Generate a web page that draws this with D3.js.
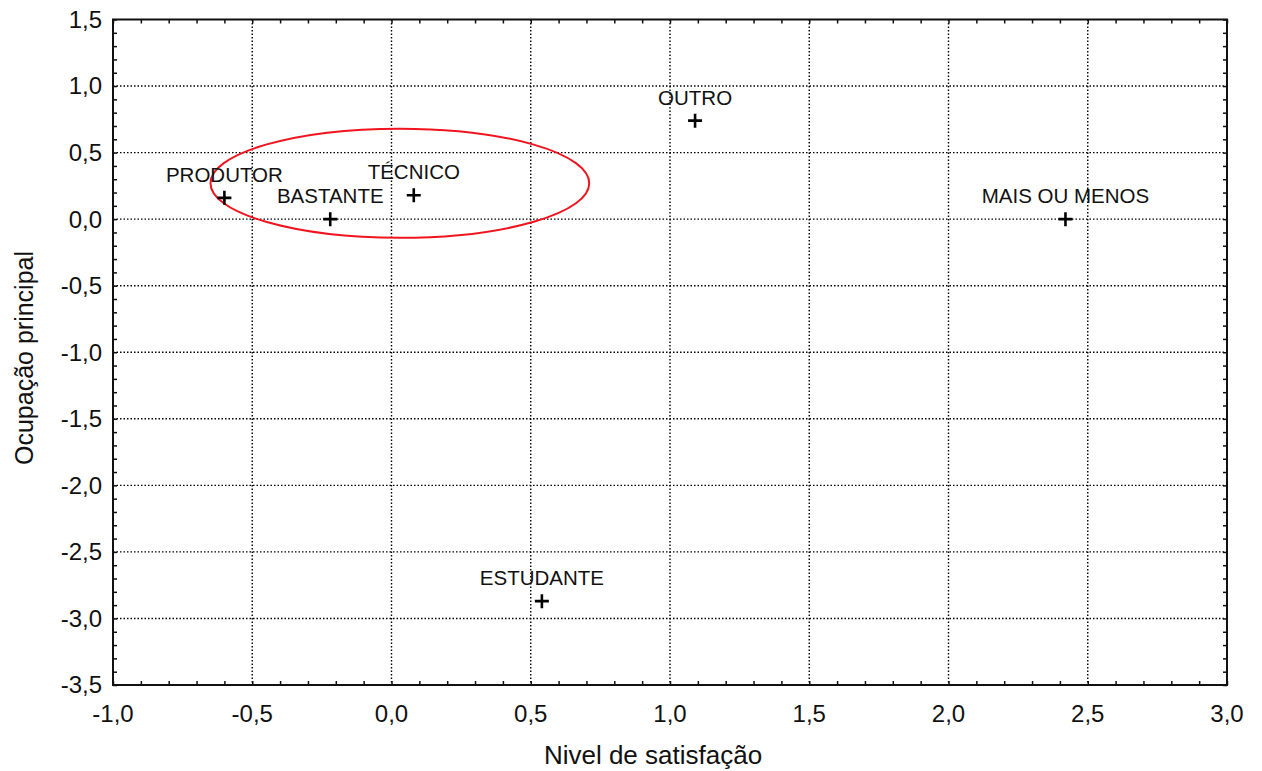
<!DOCTYPE html>
<html>
<head>
<meta charset="utf-8">
<script src="https://cdn.jsdelivr.net/npm/d3@7"></script>
<style>
  body { margin: 0; background: #fff; }
  svg { font-family: "Liberation Sans", Arial, sans-serif; }
</style>
</head>
<body>
<svg width="1262" height="771"></svg>
<script>
// Categorias e coordenadas
const categorias = ["PRODUTOR", "BASTANTE", "TÉCNICO", "OUTRO", "MAIS OU MENOS", "ESTUDANTE"];
const dimensao1 = [-0.60, -0.22, 0.08, 1.09, 2.42, 0.54];
const dimensao2 = [0.16, 0.00, 0.18, 0.74, 0.00, -2.87];

// Graduações
const xTicks = [-1.0, -0.5, 0.0, 0.5, 1.0, 1.5, 2.0, 2.5, 3.0];
const yTicks = [1.5, 1.0, 0.5, 0.0, -0.5, -1.0, -1.5, -2.0, -2.5, -3.0, -3.5];

// Elipse de destaque (centro x, centro y, raio x, raio y)
const elipse = [0.03, 0.27, 0.68, 0.41];

const pontos = categorias.map((c, i) => ({ nome: c, x: dimensao1[i], y: dimensao2[i] }));

const margem = { left: 113, right: 1227, top: 19.5, bottom: 685 };
const fmt = d => d.toFixed(1).replace(".", ",");

const svg = d3.select("svg");

const xScale = d3.scaleLinear().domain([-1, 3]).range([margem.left, margem.right]);
const yScale = d3.scaleLinear().domain([-3.5, 1.5]).range([margem.bottom, margem.top]);

// Grade pontilhada
svg.append("g")
    .selectAll("line")
    .data(xTicks.slice(1, -1))
    .join("line")
    .attr("x1", d => xScale(d)).attr("x2", d => xScale(d))
    .attr("y1", margem.top).attr("y2", margem.bottom)
    .attr("stroke", "#000").attr("stroke-width", 1.4)
    .attr("stroke-dasharray", "1.5,2");

svg.append("g")
    .selectAll("line")
    .data(yTicks.slice(1, -1))
    .join("line")
    .attr("y1", d => yScale(d)).attr("y2", d => yScale(d))
    .attr("x1", margem.left).attr("x2", margem.right)
    .attr("stroke", "#000").attr("stroke-width", 1.4)
    .attr("stroke-dasharray", "1.5,2");

// Eixos com graduações menores para dentro
const xMinor = d3.range(-10, 31).map(d => d / 10);
const yMinor = d3.range(-35, 16).map(d => d / 10);

svg.append("g")
    .attr("transform", `translate(0,${margem.bottom})`)
    .call(d3.axisTop(xScale).tickValues(xMinor).tickSize(4).tickFormat(""))
    .call(g => g.select(".domain").remove());
svg.append("g")
    .attr("transform", `translate(0,${margem.top})`)
    .call(d3.axisBottom(xScale).tickValues(xMinor).tickSize(4).tickFormat(""))
    .call(g => g.select(".domain").remove());
svg.append("g")
    .attr("transform", `translate(${margem.left},0)`)
    .call(d3.axisRight(yScale).tickValues(yMinor).tickSize(4).tickFormat(""))
    .call(g => g.select(".domain").remove());
svg.append("g")
    .attr("transform", `translate(${margem.right},0)`)
    .call(d3.axisLeft(yScale).tickValues(yMinor).tickSize(4).tickFormat(""))
    .call(g => g.select(".domain").remove());

svg.selectAll(".tick line").attr("stroke", "#111").attr("stroke-width", 1.5);

// Quadro
svg.append("rect")
    .attr("x", margem.left).attr("y", margem.top)
    .attr("width", margem.right - margem.left)
    .attr("height", margem.bottom - margem.top)
    .attr("fill", "none").attr("stroke", "#111").attr("stroke-width", 2);

// Rótulos dos eixos
svg.append("g")
    .selectAll("text")
    .data(xTicks)
    .join("text")
    .attr("x", d => xScale(d))
    .attr("y", margem.bottom + 37)
    .attr("text-anchor", "middle")
    .attr("font-size", 24)
    .attr("fill", "#111")
    .text(fmt);

svg.append("g")
    .selectAll("text")
    .data(yTicks)
    .join("text")
    .attr("x", margem.left - 11)
    .attr("y", d => yScale(d))
    .attr("dy", "0.35em")
    .attr("text-anchor", "end")
    .attr("font-size", 24)
    .attr("fill", "#111")
    .text(fmt);

// Títulos dos eixos
svg.append("text")
    .attr("x", 653)
    .attr("y", 764)
    .attr("text-anchor", "middle")
    .attr("font-size", 26)
    .attr("fill", "#111")
    .text("Nivel de satisfação");

svg.append("text")
    .attr("transform", `translate(33,358) rotate(-90)`)
    .attr("text-anchor", "middle")
    .attr("font-size", 25)
    .attr("fill", "#111")
    .text("Ocupação principal");

// Elipse vermelha
svg.append("ellipse")
    .attr("cx", xScale(elipse[0]))
    .attr("cy", yScale(elipse[1]))
    .attr("rx", xScale(elipse[2]) - xScale(0))
    .attr("ry", yScale(0) - yScale(elipse[3]))
    .attr("fill", "none")
    .attr("stroke", "#f0141e")
    .attr("stroke-width", 2);

// Pontos (cruzes) e nomes
const marcas = svg.append("g")
    .selectAll("g")
    .data(pontos)
    .join("g")
    .attr("transform", d => `translate(${xScale(d.x)},${yScale(d.y)})`);

marcas.append("path")
    .attr("d", "M-7,0H7M0,-7V7")
    .attr("stroke", "#000")
    .attr("stroke-width", 2.6);

marcas.append("text")
    .attr("y", -16)
    .attr("text-anchor", "middle")
    .attr("font-size", 20.5)
    .attr("fill", "#111")
    .text(d => d.nome);
</script>
</body>
</html>
